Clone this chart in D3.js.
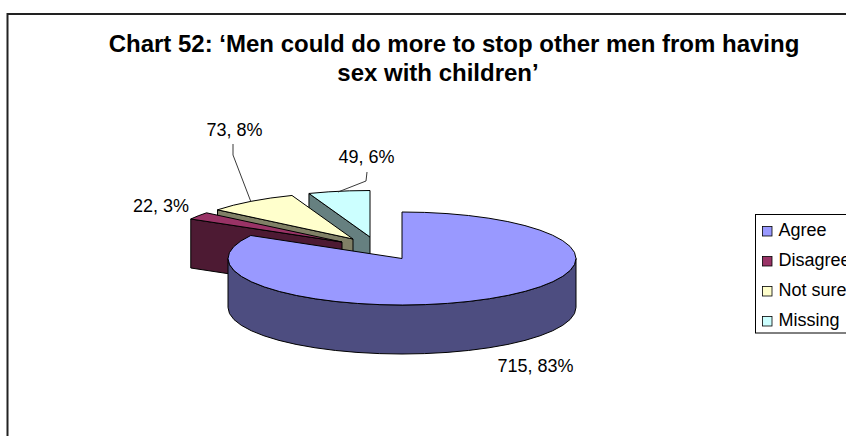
<!DOCTYPE html>
<html><head><meta charset="utf-8">
<script src="https://cdnjs.cloudflare.com/ajax/libs/d3/7.8.5/d3.min.js"></script>
<style>html,body{margin:0;padding:0;background:#fff;overflow:hidden}svg{display:block}text{font-family:"Liberation Sans",Arial,sans-serif;fill:#000}</style>
</head><body><script>
const categories=["Agree","Disagree","Not sure","Missing"];
const values=[715,22,73,49];
const percents=["83%","3%","8%","6%"];
const titleLines=["Chart 52: ‘Men could do more to stop other men from having","sex with children’"];
const topColors=["#9999FF","#993366","#FFFFCC","#CCFFFF"];
const sideColors=["#4D4D80","#4D1A33","#808066","#668080"];

const W=846,H=436;
const svg=d3.select("body").append("svg").attr("width",W).attr("height",H);
svg.append("rect").attr("x",7.5).attr("y",14).attr("width",900).attr("height",500).attr("fill","#fff").attr("stroke","#222").attr("stroke-width",2);

const titleX=[454,438];
svg.selectAll("text.title").data(titleLines).join("text").attr("class","title")
 .attr("x",(d,i)=>titleX[i]).attr("y",(d,i)=>52+i*29).attr("text-anchor","middle")
 .attr("font-size","24px").attr("font-weight","bold").text(d=>d);

const rx=174,ry=46.5,depth=49;
const sx=d3.scaleLinear().domain([-1,1]).range([-rx,rx]);
const sy=d3.scaleLinear().domain([-1,1]).range([-ry,ry]);
const pie=d3.pie().sort(null).value(d=>d)(values);
const apex=[[402,258.5],[342,242],[353,239],[370,237]];
const line=d3.line();
function arcPts(a0,a1,c){
  const n=Math.max(2,Math.round((a1-a0)/(Math.PI/24)));
  return d3.range(n+1).map(i=>{const a=a0+(a1-a0)*i/n;
    return [c[0]+sx(Math.sin(a)),c[1]-sy(Math.cos(a))];});
}
const pieG=svg.append("g").attr("stroke","#000").attr("stroke-width",1).attr("stroke-linejoin","round");
const drop=q=>[q[0],q[1]+depth];
function drawSlice(i){
  const p=pie[i],c=apex[i];
  const rim=arcPts(p.startAngle,p.endAngle,c);
  if(i>0){
    pieG.append("path").attr("d",line([c,rim[0],drop(rim[0]),drop(c)])+"Z").attr("fill",sideColors[i]);
  }
  if(p.endAngle>Math.PI/2&&p.startAngle<1.5*Math.PI){
    const front=arcPts(Math.max(p.startAngle,Math.PI/2),Math.min(p.endAngle,1.5*Math.PI),c);
    pieG.append("path").attr("d",line(front.concat(front.slice().reverse().map(drop)))+"Z").attr("fill",sideColors[i]);
  }
  pieG.append("path").attr("d",line([c,...rim])+"Z").attr("fill",topColors[i]);
}
[3,2,1,0].forEach(drawSlice);

const leaders=[[[233,144],[233,155],[251,202]],[[367,172],[366,181],[338,192]]];
svg.selectAll("path.leader").data(leaders).join("path").attr("class","leader")
 .attr("d",d=>line(d)).attr("fill","none").attr("stroke","#222").attr("stroke-width",0.9);

const labelPos=[[535.5,372],[161,212],[234.5,136],[366.5,163]];
svg.selectAll("text.lab").data(values).join("text").attr("class","lab")
 .attr("x",(d,i)=>labelPos[i][0]).attr("y",(d,i)=>labelPos[i][1]).attr("text-anchor","middle")
 .attr("font-size","18px").text((d,i)=>d+", "+percents[i]);

const lg=svg.append("g");
lg.append("rect").attr("x",755.5).attr("y",214.5).attr("width",140).attr("height",118.5).attr("fill","#fff").attr("stroke","#000");
const ly=d3.scalePoint().domain(categories).range([236,326]);
lg.selectAll("rect.k").data(categories).join("rect").attr("class","k")
 .attr("x",762.5).attr("y",d=>ly(d)-9.5).attr("width",9.5).attr("height",9.5)
 .attr("fill",(d,i)=>topColors[i]).attr("stroke","#000").attr("stroke-width",0.8);
lg.selectAll("text").data(categories).join("text")
 .attr("x",778.5).attr("y",d=>ly(d)).attr("font-size","18px").text(d=>d);
</script></body></html>
